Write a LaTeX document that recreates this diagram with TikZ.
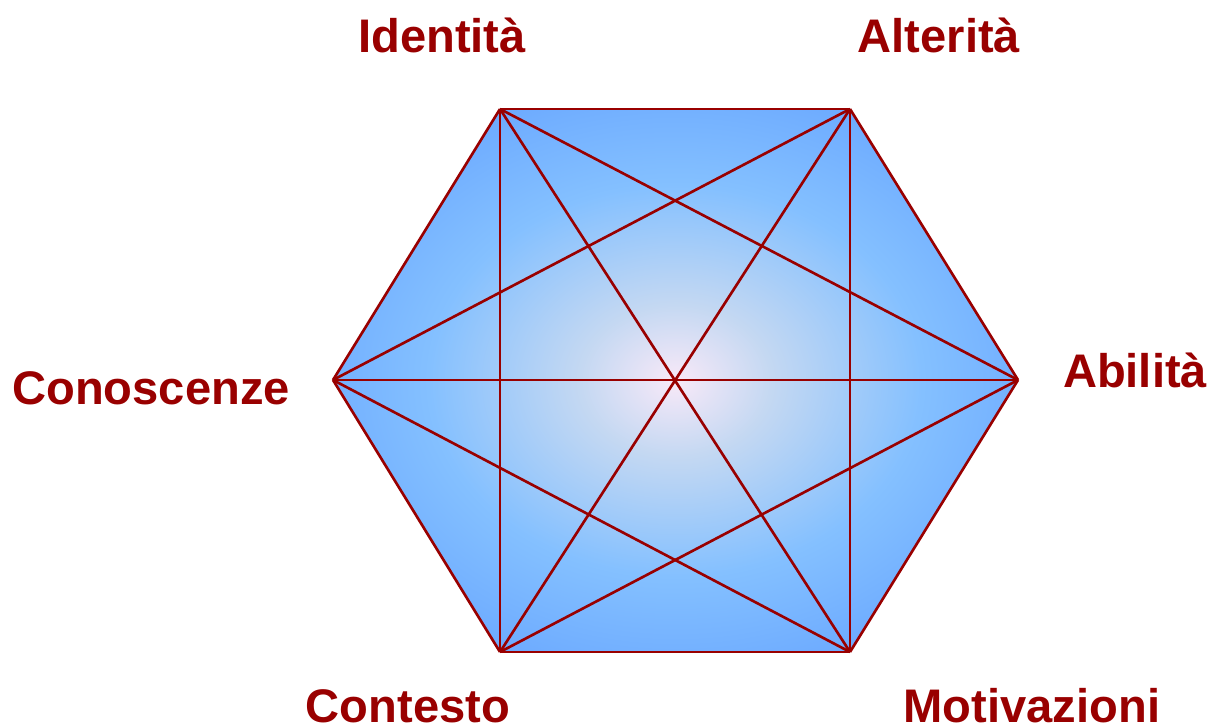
\documentclass[tikz,border=0pt]{standalone}
\usepackage{fontspec}
\setmainfont{Liberation Sans}
\usetikzlibrary{positioning}
\definecolor{hexred}{HTML}{990000}
\definecolor{hexin}{HTML}{F8E9F8}
\definecolor{hexmid}{HTML}{C4D8F2}
\definecolor{hexsky}{HTML}{84C0FF}
\definecolor{hexout}{HTML}{5A99FF}
\pgfdeclareradialshading{hexglow}{\pgfpoint{0bp}{0bp}}{color(0bp)=(hexin); color(7bp)=(hexmid); color(18bp)=(hexsky); color(36bp)=(hexout); color(60bp)=(hexout)}

\begin{document}
\begin{tikzpicture}[x=0.01cm, y=-0.01cm, line join=round,
	rib/.style={draw=hexred, line width=0.75pt},
	tag/.style={anchor=base, text=hexred, inner sep=0pt, font=\fontsize{13.4}{16}\selectfont\bfseries}]
			\useasboundingbox (0,0) rectangle (1213,728);
			\coordinate (idt) at (500,109);
			\coordinate (alt) at (850,109);
			\coordinate (abi) at (1018,380);
			\coordinate (mot) at (850,652);
			\coordinate (con) at (500,652);
			\coordinate (cno) at (333,380);
			\fill[shading=hexglow] (idt) -- (alt) -- (abi) -- (mot) -- (con) -- (cno) -- cycle;
			\path[rib]
			(idt) edge (alt) (idt) edge (abi) (idt) edge (mot) (idt) edge (con) (idt) edge (cno)
			(alt) edge (abi) (alt) edge (mot) (alt) edge (con) (alt) edge (cno)
			(abi) edge (mot) (abi) edge (con) (abi) edge (cno)
			(mot) edge (con) (mot) edge (cno)
			(con) edge (cno);
			\node[tag] (lidt) at (442,53) {Identità};
			\node[tag] (lalt) at (939,53) {Alterità};
			\node[tag] (labi) at (1135,388) {Abilità};
			\node[tag] (lcno) at (151,405) {Conoscenze};
			\node[tag] (lcon) at (408,722) {Contesto};
			\node[tag] (lmot) at (1032,722) {Motivazioni};
		\end{tikzpicture}
\end{document}
